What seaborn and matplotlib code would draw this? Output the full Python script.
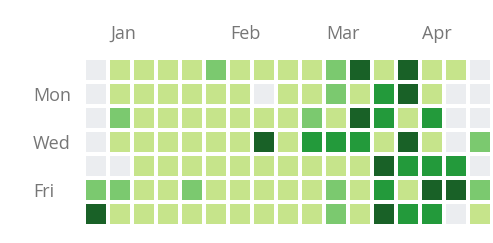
import numpy as np
import pandas as pd
import matplotlib
matplotlib.use("Agg")
import matplotlib.pyplot as plt
from matplotlib.colors import ListedColormap
import seaborn as sns

days = ["Sun", "Mon", "Tue", "Wed", "Thu", "Fri", "Sat"]
day_labels = {"Mon": 1, "Wed": 3, "Fri": 5}
months = ["Jan", "Feb", "Mar", "Apr"]
month_cols = [1, 6, 10, 14]
weeks = list(range(17))

# contribution level per day (rows Sun..Sat), per week column
sun = [0, 1, 1, 1, 1, 2, 1, 1, 1, 1, 2, 4, 1, 4, 1, 1, 0]
mon = [0, 1, 1, 1, 1, 1, 1, 0, 1, 1, 2, 1, 3, 4, 1, 0, 0]
tue = [0, 2, 1, 1, 1, 1, 1, 1, 1, 2, 1, 4, 3, 1, 3, 0, 0]
wed = [0, 1, 1, 1, 1, 1, 1, 4, 1, 3, 3, 3, 1, 4, 1, 0, 2]
thu = [0, 0, 1, 1, 1, 1, 1, 1, 1, 1, 1, 1, 4, 3, 3, 3, 0]
fri = [2, 2, 1, 1, 2, 1, 1, 1, 1, 1, 2, 1, 3, 1, 4, 4, 2]
sat = [4, 1, 1, 1, 1, 1, 1, 1, 1, 1, 2, 1, 4, 3, 3, 0, 1]

levels = pd.DataFrame([sun, mon, tue, wed, thu, fri, sat], index=days, columns=weeks)
palette = ["#ebedf0", "#c6e48b", "#7bc96f", "#239a3b", "#196127"]

W, H = 493, 243
fig = plt.figure(figsize=(W / 100, H / 100), dpi=100)
ax = fig.add_axes([84 / W, (H - 226) / H, 408 / W, 168 / H])
sns.heatmap(levels, ax=ax, cmap=ListedColormap(palette), vmin=-0.5, vmax=4.5,
            cbar=False, linewidths=4 * 72 / 100, linecolor="white",
            xticklabels=False, yticklabels=False, square=False)
ax.set_xlabel("")
ax.set_ylabel("")
for s in ax.spines.values():
    s.set_visible(False)
ax.tick_params(length=0)

txt = dict(color="#767676", fontsize=13, family=["Open Sans", "DejaVu Sans"], clip_on=False)
for m, c in zip(months, month_cols):
    ax.text(c + 2 / 24, -19 / 24, m, ha="left", va="baseline", **txt)
for d, r in day_labels.items():
    ax.text(-51 / 24, r + 0.5 + 7 / 24, d, ha="left", va="baseline", **txt)

fig.savefig("out.png", dpi=100, facecolor="white")
